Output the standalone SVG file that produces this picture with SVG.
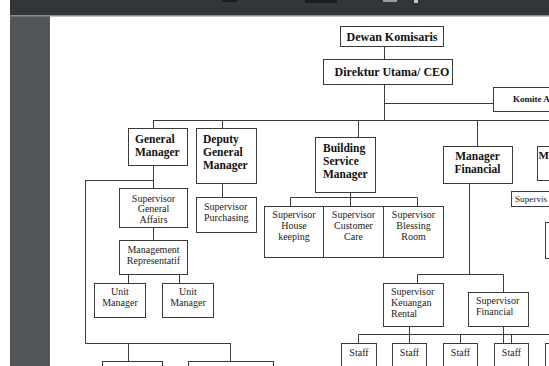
<svg xmlns="http://www.w3.org/2000/svg" width="549" height="366" viewBox="0 0 549 366">
<style>
.box{fill:#fff;stroke:#3a3a3a;stroke-width:1}
.ln{fill:none;stroke:#3a3a3a;stroke-width:1}
.b{font-family:"Liberation Serif",serif;font-weight:bold;font-size:11.5px;fill:#111}
.bt{font-family:"Liberation Serif",serif;font-weight:bold;font-size:12px;fill:#111;text-anchor:middle}
.r{font-family:"Liberation Serif",serif;font-size:10px;fill:#222}
.c{text-anchor:middle}
</style>
<rect x="0" y="0" width="549" height="366" fill="#fff"/>
<rect x="10" y="0" width="539" height="15" fill="#323639"/>
<rect x="10" y="15" width="40" height="351" fill="#525659"/>
<rect x="10" y="15" width="539" height="1.5" fill="#8a8c8e"/>
<rect x="222" y="0" width="15" height="2" fill="#1c1d1f"/>
<rect x="305" y="0" width="32" height="3" fill="#1c1d1f"/>
<rect x="383" y="0" width="14" height="2" fill="#9a9c9e"/>
<rect x="414" y="0" width="4" height="3" fill="#c0c2c4"/>

<g id="connectors">
<path class="ln" d="M384.5 46V59M384.5 85V120M384.5 103.5H493"/>
<path class="ln" d="M153.5 120.5H549M153.5 120V128M222.5 120V128M358.5 120V137M477.5 120V146"/>
<path class="ln" d="M153.5 165V188M85.5 180.5H153.5M85.5 180V343.5H230.5M128.5 343V361M230.5 343V361"/>
<path class="ln" d="M222.5 183V197M153.5 227V240M128.5 274V283M179.5 274V283"/>
<path class="ln" d="M350.5 192V206M290.5 206V197.5H417.5V206"/>
<path class="ln" d="M469.5 183V274.5M417.5 283V274.5H503.5V292"/>
<path class="ln" d="M409.5 326V343M358.5 343V334.5H549M460.5 334V343M511.5 334V343M503.5 326V343"/>
</g>

<g id="dewan"><rect class="box" x="340.5" y="26.5" width="103" height="20"/><text class="bt" x="392" y="40.5">Dewan Komisaris</text></g>
<g id="direktur"><rect class="box" x="323.5" y="59.5" width="129" height="25"/><text class="bt" x="392" y="76">Direktur Utama/ CEO</text></g>
<g id="komite"><rect class="box" x="493.5" y="87.5" width="80" height="24"/><text class="b" x="513" y="102" style="font-size:9px">Komite A</text></g>

<g id="gm"><rect class="box" x="128.5" y="128.5" width="59" height="37"/><text class="b" x="135" y="143">General</text><text class="b" x="135" y="156">Manager</text></g>
<g id="dgm"><rect class="box" x="196.5" y="128.5" width="60" height="55"/><text class="b" x="203" y="143">Deputy</text><text class="b" x="203" y="156">General</text><text class="b" x="203" y="169">Manager</text></g>
<g id="bsm"><rect class="box" x="315.5" y="137.5" width="60" height="55"/><text class="b" x="323" y="152">Building</text><text class="b" x="323" y="165">Service</text><text class="b" x="323" y="178">Manager</text></g>
<g id="mf"><rect class="box" x="443.5" y="146.5" width="69" height="37"/><text class="b c" x="477.5" y="160">Manager</text><text class="b c" x="477.5" y="173">Financial</text></g>
<g id="m-right"><rect class="box" x="537.5" y="146.5" width="40" height="34"/><text class="b" x="538.5" y="159" style="font-size:11px">M</text></g>
<g id="sup-right"><rect class="box" x="511.5" y="191.5" width="60" height="15"/><text class="r" x="515" y="201.5" style="font-size:9.2px">Supervis</text></g>
<g id="box-right"><rect class="box" x="545.5" y="222.5" width="30" height="36"/></g>

<g id="sga"><rect class="box" x="119.5" y="188.5" width="68" height="39"/><text class="r c" x="153.5" y="201.5">Supervisor</text><text class="r c" x="153.5" y="212">General</text><text class="r c" x="153.5" y="222.5">Affairs</text></g>
<g id="spurch"><rect class="box" x="196.5" y="197.5" width="60" height="35"/><text class="r" x="204" y="210">Supervisor</text><text class="r" x="204" y="221">Purchasing</text></g>
<g id="mr"><rect class="box" x="119.5" y="240.5" width="68" height="34"/><text class="r c" x="153.5" y="252.5">Management</text><text class="r c" x="153.5" y="263.5">Representatif</text></g>
<g id="um1"><rect class="box" x="94.5" y="283.5" width="51" height="34"/><text class="r c" x="120" y="294.5">Unit</text><text class="r c" x="120" y="305.5">Manager</text></g>
<g id="um2"><rect class="box" x="162.5" y="283.5" width="51" height="34"/><text class="r c" x="188" y="294.5">Unit</text><text class="r c" x="188" y="305.5">Manager</text></g>
<g id="bl1"><rect class="box" x="102.5" y="361.5" width="60" height="10"/></g>
<g id="bl2"><rect class="box" x="188.5" y="361.5" width="85" height="10"/></g>

<g id="shk"><rect class="box" x="264.5" y="206.5" width="59" height="51"/><text class="r c" x="294" y="218">Supervisor</text><text class="r c" x="294" y="229">House</text><text class="r c" x="294" y="240">keeping</text></g>
<g id="scc"><rect class="box" x="323.5" y="206.5" width="60" height="51"/><text class="r c" x="353.5" y="218">Supervisor</text><text class="r c" x="353.5" y="229">Customer</text><text class="r c" x="353.5" y="240">Care</text></g>
<g id="sbr"><rect class="box" x="383.5" y="206.5" width="60" height="51"/><text class="r c" x="413.5" y="218">Supervisor</text><text class="r c" x="413.5" y="229">Blessing</text><text class="r c" x="413.5" y="240">Room</text></g>

<g id="skr"><rect class="box" x="383.5" y="283.5" width="60" height="43"/><text class="r" x="391" y="295">Supervisor</text><text class="r" x="391" y="306">Keuangan</text><text class="r" x="391" y="317">Rental</text></g>
<g id="sf"><rect class="box" x="468.5" y="292.5" width="60" height="34"/><text class="r" x="476" y="303.5">Supervisor</text><text class="r" x="476" y="314.5">Financial</text></g>

<g id="staff1"><rect class="box" x="341.5" y="343.5" width="35" height="30"/><text class="r c" x="359" y="356">Staff</text></g>
<g id="staff2"><rect class="box" x="392.5" y="343.5" width="34" height="30"/><text class="r c" x="409.5" y="356">Staff</text></g>
<g id="staff3"><rect class="box" x="443.5" y="343.5" width="34" height="30"/><text class="r c" x="460.5" y="356">Staff</text></g>
<g id="staff4"><rect class="box" x="494.5" y="343.5" width="34" height="30"/><text class="r c" x="511.5" y="356">Staff</text></g>
<g id="staff5"><rect class="box" x="545.5" y="343.5" width="34" height="30"/></g>
</svg>
